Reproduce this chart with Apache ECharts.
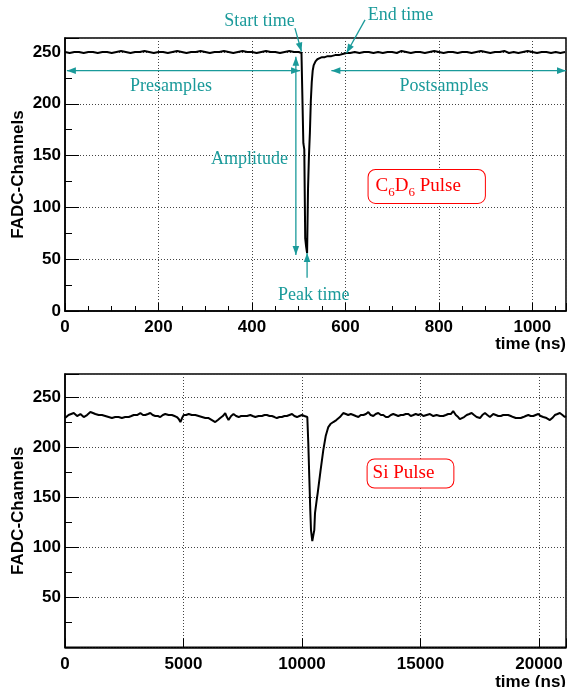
<!DOCTYPE html>
<html>
<head>
<meta charset="utf-8">
<script src="https://cdn.jsdelivr.net/npm/echarts@6/dist/echarts.min.js"></script>
<style>
  html, body { margin: 0; padding: 0; background: #fff; }
  #chart { width: 569px; height: 687px; }
</style>
</head>
<body>
<div id="chart"></div>
<script>
// C6D6 detector waveform: sample time (ns) and FADC channel
const c6d6Time = [
  0, 10, 20, 30, 40, 50, 60, 70, 80, 90,
  100, 110, 120, 130, 140, 150, 160, 170, 180, 190,
  200, 210, 220, 230, 240, 250, 260, 270, 280, 290,
  300, 310, 320, 330, 340, 350, 360, 370, 380, 390,
  400, 410, 420, 430, 440, 450, 460, 470, 480, 490,
  500, 504, 506, 508, 510, 512, 514, 516, 518, 520,
  522, 524, 526, 528, 530, 532, 536, 540, 545, 550,
  556, 562, 570, 578, 586, 594, 602, 610, 620, 630,
  640, 650, 660, 670, 680, 690, 700, 710, 720, 730,
  740, 750, 760, 770, 780, 790, 800, 810, 820, 830,
  840, 850, 860, 870, 880, 890, 900, 910, 920, 930,
  940, 950, 960, 970, 980, 990, 1000, 1010, 1020, 1030,
  1040, 1050, 1060, 1070
];
const c6d6Adc = [
  250, 249, 250, 250, 249, 250, 250, 249, 250, 250,
  249, 250, 251, 250, 249, 250, 250, 251, 250, 249,
  250, 250, 249, 250, 251, 250, 249, 250, 250, 251,
  250, 249, 250, 250, 251, 250, 249, 250, 251, 250,
  250, 249, 250, 251, 250, 250, 249, 250, 251, 250,
  250, 250, 249, 249, 162, 156, 70, 62, 56, 118,
  150, 172, 203, 221, 232, 237, 241, 243, 244, 245,
  245, 246, 246, 247, 247, 248, 249, 249, 250, 249,
  250, 250, 249, 250, 249, 250, 250, 249, 251, 250,
  249, 250, 250, 249, 250, 251, 250, 249, 250, 250,
  249, 250, 250, 249, 250, 251, 250, 249, 250, 250,
  251, 249, 250, 249, 250, 251, 250, 249, 250, 250,
  249, 250, 249, 250
];

// Silicon detector waveform
const siTime = [
  0, 150, 370, 510, 650, 790, 930, 1070, 1180, 1280,
  1420, 1560, 1700, 1840, 1980, 2120, 2260, 2400, 2540, 2690,
  2800, 2900, 3040, 3180, 3290, 3390, 3500, 3600, 3700, 3810,
  3920, 4020, 4130, 4230, 4370, 4510, 4620, 4720, 4800, 4870,
  4940, 5010, 5110, 5220, 5350, 5500, 5640, 5780, 5920, 6060,
  6200, 6340, 6450, 6550, 6660, 6760, 6830, 6900, 7010, 7110,
  7220, 7330, 7430, 7540, 7680, 7820, 7920, 8030, 8170, 8310,
  8420, 8520, 8630, 8730, 8840, 8940, 9050, 9150, 9260, 9360,
  9470, 9580, 9680, 9790, 9890, 10000, 10100, 10224,
  10266, 10308, 10350, 10380, 10435, 10480, 10519, 10549, 10620, 10662,
  10780, 10899, 11000, 11110, 11200, 11321, 11450, 11600, 11740,
  11850, 11950, 12060, 12170, 12270, 12380, 12480, 12590, 12700, 12800,
  12900, 13010, 13110, 13220, 13330, 13430, 13540, 13640, 13750, 13850,
  13960, 14060, 14170, 14270, 14380, 14490, 14590, 14700, 14800, 14910,
  15010, 15120, 15260, 15400, 15540, 15680, 15820, 15960, 16070, 16170,
  16280, 16380, 16490, 16590, 16660, 16740, 16840, 16950, 17060, 17160,
  17260, 17370, 17440, 17510, 17610, 17720, 17820, 17930, 18000, 18070,
  18180, 18280, 18390, 18490, 18600, 18700, 18810, 18910, 19020, 19130,
  19230, 19340, 19440, 19550, 19650, 19760, 19860, 19970, 20070, 20180,
  20320, 20460, 20560, 20670, 20780, 20880, 20990, 21090, 21140
];
const siAdc = [
  229, 232, 234, 231, 233, 230, 232, 235, 234, 233,
  232, 232, 231, 230, 229, 230, 230, 229, 230, 230,
  231, 232, 232, 234, 232, 232, 233, 234, 232, 231,
  231, 230, 232, 233, 232, 232, 231, 230, 228, 225,
  229, 232, 232, 233, 232, 232, 231, 230, 229, 229,
  227, 225, 227, 229, 231, 234, 230, 227, 231, 233,
  231, 230, 231, 231, 231, 232, 231, 230, 231, 231,
  232, 232, 231, 231, 230, 229, 230, 230, 231, 231,
  232, 233, 231, 230, 231, 232, 231, 230,
  204, 170, 137, 117, 106, 112, 117, 134, 147, 154,
  176, 197, 211, 220, 223, 225, 227, 230, 234,
  233, 232, 233, 232, 231, 230, 232, 232, 233, 235,
  232, 231, 233, 234, 232, 232, 230, 230, 232, 233,
  232, 231, 232, 232, 233, 233, 231, 232, 233, 232,
  233, 231, 232, 233, 231, 232, 231, 231, 232, 233,
  233, 236, 232, 230, 228, 227, 230, 232, 233, 234,
  232, 230, 229, 229, 232, 234, 232, 230, 231, 233,
  232, 231, 231, 232, 232, 232, 231, 230, 229, 229,
  229, 230, 231, 232, 231, 231, 232, 233, 231, 230,
  229, 227, 229, 232, 233, 234, 232, 230, 231
];

// Tick labels shown on each axis
const c6d6TimeTicks = [0, 200, 400, 600, 800, 1000];
const c6d6AdcTicks = [0, 50, 100, 150, 200, 250];
const siTimeTicks = [0, 5000, 10000, 15000, 20000];
const siAdcTicks = [50, 100, 150, 200, 250];

const SANS = '"Liberation Sans", Arial, Helvetica, sans-serif';
const SERIF = '"Liberation Serif", "Times New Roman", serif';
const TEAL = '#1a9a9a';
const RED = '#ff0000';

const labelOf = (ticks) => (v) => (ticks.indexOf(v) >= 0 ? String(v) : '');
const gridLine = { show: true, lineStyle: { color: '#444', width: 1, type: [1, 2] } };
const tickFont = { color: '#000', fontFamily: SANS, fontWeight: 'bold', fontSize: 17 };

function mainX(gridIndex, max, interval, ticks, tickLen, labelMargin, namePad) {
  return {
    type: 'value', gridIndex, position: 'bottom', min: 0, max, interval,
    axisLine: { show: true, onZero: false, lineStyle: { color: '#000', width: 1.5 } },
    axisTick: { show: true, inside: true, length: tickLen, lineStyle: { color: '#000', width: 1 } },
    axisLabel: Object.assign({ margin: labelMargin, formatter: labelOf(ticks) }, tickFont),
    splitLine: gridLine,
    name: 'time (ns)', nameLocation: 'end', nameGap: 0, nameMoveOverlap: false,
    nameTextStyle: { color: '#000', fontFamily: SANS, fontWeight: 'bold', fontSize: 17,
      align: 'right', verticalAlign: 'top', padding: [namePad, 0, 0, 0] }
  };
}
function minorX(gridIndex, max, interval, tickLen) {
  return {
    type: 'value', gridIndex, position: 'bottom', min: 0, max, interval,
    axisLine: { show: false },
    axisTick: { show: true, inside: true, length: tickLen, lineStyle: { color: '#000', width: 1 } },
    axisLabel: { show: false }, splitLine: { show: false }
  };
}
function mainY(gridIndex, max, ticks) {
  return {
    type: 'value', gridIndex, position: 'left', min: 0, max, interval: 50,
    axisLine: { show: true, onZero: false, lineStyle: { color: '#000', width: 1.5 } },
    axisTick: { show: true, inside: true, length: 14, lineStyle: { color: '#000', width: 1 } },
    axisLabel: Object.assign({ margin: 4, formatter: labelOf(ticks) }, tickFont),
    splitLine: gridLine,
    name: 'FADC-Channels', nameLocation: 'middle', nameGap: 38, nameMoveOverlap: false,
    nameTextStyle: { color: '#000', fontFamily: SANS, fontWeight: 'bold', fontSize: 17 }
  };
}
function minorY(gridIndex, max) {
  return {
    type: 'value', gridIndex, position: 'left', min: 0, max, interval: 25,
    axisLine: { show: false },
    axisTick: { show: true, inside: true, length: 7, lineStyle: { color: '#000', width: 1 } },
    axisLabel: { show: false }, splitLine: { show: false }
  };
}

const chart = echarts.init(document.getElementById('chart'), null, { renderer: 'canvas' });
chart.setOption({
  animation: false,
  backgroundColor: '#fff',
  grid: [
    { left: 65, top: 38, width: 501, height: 273, show: true, borderColor: '#000', borderWidth: 1.5, outerBoundsMode: 'none', containLabel: false },
    { left: 65, top: 374, width: 501, height: 273.3, show: true, borderColor: '#000', borderWidth: 1.5, outerBoundsMode: 'none', containLabel: false }
  ],
  xAxis: [
    mainX(0, 1072, 200, c6d6TimeTicks, 8, 8, 25),
    minorX(0, 1072, 50, 5),
    mainX(1, 21140, 5000, siTimeTicks, 9, 9, 27)
  ],
  yAxis: [
    mainY(0, 263.5, c6d6AdcTicks),
    minorY(0, 263.5),
    mainY(1, 273, siAdcTicks),
    minorY(1, 273)
  ],
  series: [
    {
      type: 'line', xAxisIndex: 0, yAxisIndex: 0, silent: true,
      data: c6d6Time.map((t, i) => [t, c6d6Adc[i]]),
      symbol: 'none', showSymbol: false,
      lineStyle: { color: '#000', width: 2 }
    },
    {
      type: 'line', xAxisIndex: 2, yAxisIndex: 2, silent: true,
      data: siTime.map((t, i) => [t, siAdc[i]]),
      symbol: 'none', showSymbol: false,
      lineStyle: { color: '#000', width: 2 }
    }
  ]
});

// Annotations, placed in data coordinates of the C6D6 panel
const c6d6Notes = [
  { text: 'Start time', at: [416, 280] },
  { text: 'End time', at: [718, 285.5] },
  { text: 'Presamples', at: [227, 216.5] },
  { text: 'Postsamples', at: [811, 216.5] },
  { text: 'Amplitude', at: [395, 146] },
  { text: 'Peak time', at: [532, 15.5] }
];
const c6d6Arrows = [
  { from: [492, 273], to: [506, 250.5] },
  { from: [642, 281], to: [602.5, 249] },
  { from: [4, 232], to: [503, 232], both: true },
  { from: [570, 232], to: [1072, 232], both: true },
  { from: [494, 245.5], to: [494, 54], both: true },
  { from: [518, 32], to: [518, 56] }
];

const toPx = (panel, p) => chart.convertToPixel(
  panel === 0 ? { xAxisIndex: 0, yAxisIndex: 0 } : { xAxisIndex: 2, yAxisIndex: 2 }, p);

function arrowHead(tip, tail) {
  const dx = tip[0] - tail[0], dy = tip[1] - tail[1];
  const len = Math.hypot(dx, dy) || 1;
  const ux = dx / len, uy = dy / len;
  const L = 9, W = 3.3;
  const bx = tip[0] - ux * L, by = tip[1] - uy * L;
  return {
    type: 'polygon', z: 100, silent: true,
    shape: { points: [tip, [bx - uy * W, by + ux * W], [bx + uy * W, by - ux * W]] },
    style: { fill: TEAL }
  };
}

const elements = [];
c6d6Arrows.forEach((a) => {
  const p = toPx(0, a.from), q = toPx(0, a.to);
  elements.push({
    type: 'line', z: 100, silent: true,
    shape: { x1: p[0], y1: p[1], x2: q[0], y2: q[1] },
    style: { stroke: TEAL, lineWidth: 1.3 }
  });
  elements.push(arrowHead(q, p));
  if (a.both) elements.push(arrowHead(p, q));
});
c6d6Notes.forEach((n) => {
  const p = toPx(0, n.at);
  elements.push({
    type: 'text', z: 100, silent: true, x: p[0], y: p[1],
    style: { text: n.text, fill: TEAL, fontSize: 18, fontFamily: SERIF, align: 'center', verticalAlign: 'middle' }
  });
});

// Pulse name boxes
const c6d6Box = toPx(0, [774, 120.2]);
elements.push({
  type: 'text', z: 110, silent: true, x: c6d6Box[0], y: c6d6Box[1],
  style: {
    text: '{n|C}{s|6}{n|D}{s|6}{n| Pulse}',
    rich: {
      n: { fontSize: 19, fontFamily: SERIF, fill: RED, lineHeight: 26, verticalAlign: 'middle' },
      s: { fontSize: 13, fontFamily: SERIF, fill: RED, lineHeight: 12, verticalAlign: 'bottom' }
    },
    align: 'center', verticalAlign: 'middle',
    backgroundColor: '#fff', borderColor: RED, borderWidth: 1, borderRadius: 7,
    padding: [3.5, 24, 3.5, 7]
  }
});
const siBox = toPx(1, [14578, 173.6]);
elements.push({
  type: 'text', z: 110, silent: true, x: siBox[0], y: siBox[1],
  style: {
    text: 'Si Pulse', fill: RED, fontSize: 19, fontFamily: SERIF, lineHeight: 22,
    align: 'center', verticalAlign: 'middle',
    backgroundColor: '#fff', borderColor: RED, borderWidth: 1, borderRadius: 7,
    padding: [3, 19, 3, 5]
  }
});

chart.setOption({ graphic: { elements } });
</script>
</body>
</html>
